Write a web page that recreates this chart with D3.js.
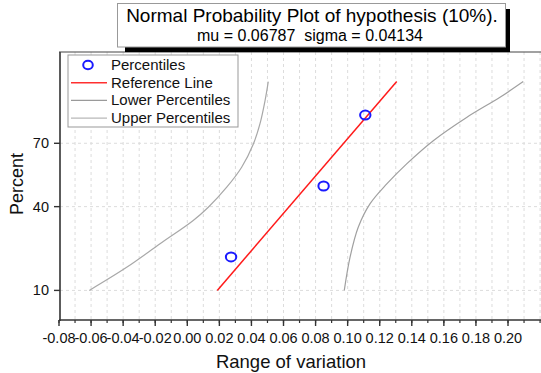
<!DOCTYPE html>
<html>
<head>
<meta charset="utf-8">
<script src="https://cdn.jsdelivr.net/npm/d3@7"></script>
<style>
  body { margin: 0; background: #fff; }
  svg { font-family: "Liberation Sans", Arial, sans-serif; }
</style>
</head>
<body>
<div id="chart"></div>
<script>
// data (x = range of variation, p = percent)
var percentX = [0.0273, 0.0850, 0.1110];
var percentP = [19.2, 50, 80.8];

var refX = [0.0187, 0.1306];
var refP = [10, 90];

var lowerX = [-0.0611, -0.0378, -0.0170, 0.0037, 0.0131, 0.0246, 0.0339, 0.0412, 0.0453, 0.0485, 0.0505];
var lowerP = [10, 15.9, 23.9, 33.6, 39.7, 49.4, 59.1, 69.7, 77.7, 85.3, 90];

var upperX = [0.0979, 0.1015, 0.1066, 0.1139, 0.1244, 0.1368, 0.1534, 0.1742, 0.1950, 0.2095];
var upperP = [10, 19.1, 30.6, 41.3, 51, 60.7, 71.1, 80, 86.2, 90];

var yTicks = [10, 40, 70];
var xMajor = d3.range(-0.08, 0.2001, 0.02);
var xMinor = d3.range(-0.08, 0.2201, 0.01);

var legendItems = ["Percentiles", "Reference Line", "Lower Percentiles", "Upper Percentiles"];
var titleText = "Normal Probability Plot of hypothesis (10%).";
var subText = "mu = 0.06787  sigma = 0.04134";

var W = 541, H = 373;
var margin = { top: 52, right: 0, bottom: 53, left: 60 };

// inverse normal cdf (Acklam) for the probability axis
function probit(p) {
  var a = [-3.969683028665376e+01, 2.209460984245205e+02, -2.759285104469687e+02, 1.383577518672690e+02, -3.066479806614716e+01, 2.506628277459239e+00];
  var b = [-5.447609879822406e+01, 1.615858368580409e+02, -1.556989798598866e+02, 6.680131188771972e+01, -1.328068155288572e+01];
  var c = [-7.784894002430293e-03, -3.223964580411365e-01, -2.400758277161838e+00, -2.549732539343734e+00, 4.374664141464968e+00, 2.938163982698783e+00];
  var d = [7.784695709041462e-03, 3.224671290700398e-01, 2.445134137142996e+00, 3.754408661907416e+00];
  var q, r;
  if (p < 0.02425) {
    q = Math.sqrt(-2 * Math.log(p));
    return (((((c[0]*q+c[1])*q+c[2])*q+c[3])*q+c[4])*q+c[5]) / ((((d[0]*q+d[1])*q+d[2])*q+d[3])*q+1);
  } else if (p > 1 - 0.02425) {
    q = Math.sqrt(-2 * Math.log(1 - p));
    return -(((((c[0]*q+c[1])*q+c[2])*q+c[3])*q+c[4])*q+c[5]) / ((((d[0]*q+d[1])*q+d[2])*q+d[3])*q+1);
  }
  q = p - 0.5; r = q * q;
  return (((((a[0]*r+a[1])*r+a[2])*r+a[3])*r+a[4])*r+a[5])*q / (((((b[0]*r+b[1])*r+b[2])*r+b[3])*r+b[4])*r+1);
}

var svg = d3.select("#chart").append("svg")
  .attr("width", W).attr("height", H);

var xScale = d3.scaleLinear().domain([-0.08, 0.22]).range([59, 59 + 0.30 * 1603.6]);
var zScale = d3.scaleLinear().domain([probit(0.05), probit(0.95)]).range([H - margin.bottom, margin.top]);
function yPos(p) { return zScale(probit(p / 100)); }

var bottom = H - margin.bottom;

// grid
svg.append("g").selectAll("line").data(xMinor.slice(1)).enter().append("line")
  .attr("x1", function(d) { return xScale(d); }).attr("x2", function(d) { return xScale(d); })
  .attr("y1", margin.top).attr("y2", bottom)
  .attr("stroke", "#dcdcdc").attr("stroke-dasharray", "3,3").attr("stroke-width", 1);
svg.append("g").selectAll("line").data(yTicks).enter().append("line")
  .attr("x1", margin.left).attr("x2", W)
  .attr("y1", function(d) { return yPos(d); }).attr("y2", function(d) { return yPos(d); })
  .attr("stroke", "#dcdcdc").attr("stroke-dasharray", "3,3").attr("stroke-width", 1);

// curves
var line = d3.line()
  .x(function(d) { return xScale(d[0]); })
  .y(function(d) { return yPos(d[1]); })
  .curve(d3.curveCatmullRom);

svg.append("path").datum(d3.zip(lowerX, lowerP))
  .attr("d", line).attr("fill", "none").attr("stroke", "#a8a8a8").attr("stroke-width", 1.2);
svg.append("path").datum(d3.zip(upperX, upperP))
  .attr("d", line).attr("fill", "none").attr("stroke", "#a0a0a0").attr("stroke-width", 1.2);
svg.append("path").datum(d3.zip(refX, refP))
  .attr("d", d3.line().x(function(d) { return xScale(d[0]); }).y(function(d) { return yPos(d[1]); }))
  .attr("fill", "none").attr("stroke", "#ff1a1a").attr("stroke-width", 1.5);

svg.append("g").selectAll("ellipse").data(d3.zip(percentX, percentP)).enter().append("ellipse")
  .attr("cx", function(d) { return xScale(d[0]); })
  .attr("cy", function(d) { return yPos(d[1]); })
  .attr("rx", 5.2).attr("ry", 4.5)
  .attr("fill", "none").attr("stroke", "#1a1aff").attr("stroke-width", 2);

// x axis
var xAxis = svg.append("g").attr("transform", "translate(0," + bottom + ")");
xAxis.append("line").attr("x1", margin.left - 1).attr("x2", W).attr("y1", 0).attr("y2", 0)
  .attr("stroke", "#333").attr("stroke-width", 1.6);
xAxis.selectAll(".minor").data(xMinor).enter().append("line")
  .attr("x1", function(d) { return xScale(d); }).attr("x2", function(d) { return xScale(d); })
  .attr("y1", 0).attr("y2", 3).attr("stroke", "#333").attr("stroke-width", 1.2);
xAxis.selectAll(".major").data(xMajor).enter().append("line")
  .attr("x1", function(d) { return xScale(d); }).attr("x2", function(d) { return xScale(d); })
  .attr("y1", 0).attr("y2", 6).attr("stroke", "#333").attr("stroke-width", 1.4);
xAxis.selectAll("text").data(xMajor).enter().append("text")
  .attr("x", function(d) { return xScale(d); }).attr("y", 23)
  .attr("text-anchor", "middle").attr("font-size", 14.5).attr("fill", "#111")
  .text(function(d) { return d3.format(".2f")(Math.abs(d) < 1e-9 ? 0 : d).replace("−", "-"); });

svg.append("text").attr("x", 291).attr("y", 368).attr("text-anchor", "middle")
  .attr("font-size", 18.5).attr("fill", "#111").text("Range of variation");

// y axis
var yAxis = svg.append("g");
yAxis.append("line").attr("x1", margin.left).attr("x2", margin.left).attr("y1", margin.top).attr("y2", bottom + 1)
  .attr("stroke", "#333").attr("stroke-width", 1.6);
yAxis.selectAll(".tick").data(yTicks).enter().append("line")
  .attr("x1", margin.left - 6).attr("x2", margin.left)
  .attr("y1", function(d) { return yPos(d); }).attr("y2", function(d) { return yPos(d); })
  .attr("stroke", "#333").attr("stroke-width", 1.4);
yAxis.selectAll("text").data(yTicks).enter().append("text")
  .attr("x", margin.left - 11).attr("y", function(d) { return yPos(d) + 5; })
  .attr("text-anchor", "end").attr("font-size", 14.5).attr("fill", "#111").text(function(d) { return d; });

svg.append("text").attr("transform", "translate(23,184) rotate(-90)").attr("text-anchor", "middle")
  .attr("font-size", 18).attr("fill", "#111").text("Percent");

// top frame line
svg.append("line").attr("x1", margin.left - 1).attr("x2", W).attr("y1", margin.top).attr("y2", margin.top)
  .attr("stroke", "#444").attr("stroke-width", 1.2);

// legend
var leg = svg.append("g").attr("transform", "translate(68,55)");
leg.append("rect").attr("width", 170).attr("height", 72)
  .attr("fill", "#fff").attr("stroke", "#999").attr("stroke-width", 1);
legendItems.forEach(function(name, i) {
  var y = 10 + i * 17.7;
  if (i === 0) {
    leg.append("ellipse").attr("cx", 20).attr("cy", y).attr("rx", 4.8).attr("ry", 4.2)
      .attr("fill", "none").attr("stroke", "#1a1aff").attr("stroke-width", 2);
  } else {
    leg.append("line").attr("x1", 3).attr("x2", 39).attr("y1", y).attr("y2", y)
      .attr("stroke", ["", "#ff3030", "#9a9a9a", "#b8b8b8"][i]).attr("stroke-width", i === 1 ? 1.5 : 1.2);
  }
  leg.append("text").attr("x", 43).attr("y", y + 5).attr("font-size", 15).attr("fill", "#111").text(name);
});

// title box with shadow
svg.append("rect").attr("x", 125).attr("y", 9).attr("width", 385).attr("height", 43).attr("fill", "#000");
svg.append("rect").attr("x", 117.5).attr("y", 3.5).attr("width", 388).attr("height", 43.5)
  .attr("fill", "#fff").attr("stroke", "#999").attr("stroke-width", 1);
svg.append("text").attr("x", 312).attr("y", 22).attr("text-anchor", "middle")
  .attr("font-size", 19).attr("fill", "#000").text(titleText);
svg.append("text").attr("x", 310).attr("y", 41).attr("text-anchor", "middle")
  .attr("font-size", 16).attr("fill", "#000").attr("xml:space", "preserve").style("white-space", "pre").text(subText);
</script>
</body>
</html>
